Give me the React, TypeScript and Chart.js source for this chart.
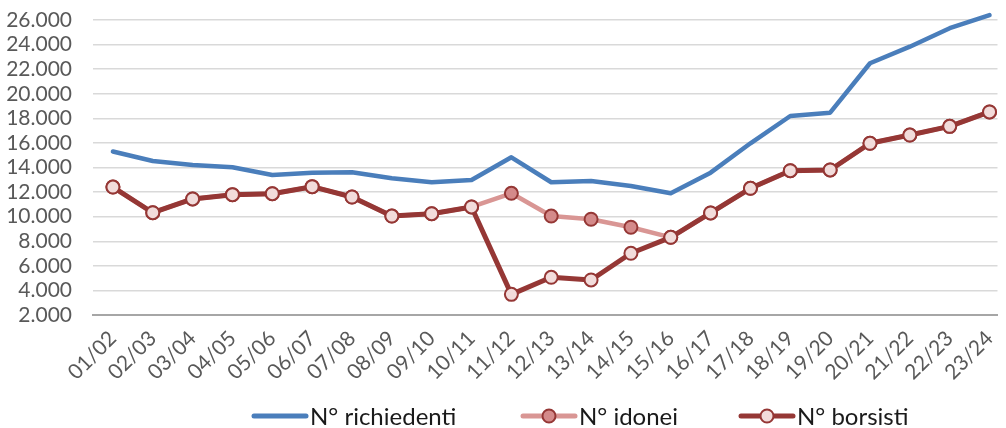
import React, { useEffect, useRef } from "react";
import { Chart, registerables } from "chart.js";

Chart.register(...registerables);

const categories = ["01/02","02/03","03/04","04/05","05/06","06/07","07/08","08/09","09/10","10/11","11/12","12/13","13/14","14/15","15/16","16/17","17/18","18/19","19/20","20/21","21/22","22/23","23/24"];
const richiedenti = [15300,14530,14200,14020,13390,13580,13610,13120,12800,12980,14830,12800,12900,12500,11900,13580,15970,18190,18460,22480,23830,25330,26400];
const idonei = [12410,10320,11440,11790,11870,12440,11600,10050,10240,10790,11900,10050,9790,9140,8320,10300,12310,13740,13800,15970,16640,17350,18520];
const borsisti = [12410,10320,11440,11790,11870,12440,11600,10050,10240,10790,3680,5070,4850,7020,8320,10300,12310,13740,13800,15970,16640,17350,18520];
const yTicks = [2000,4000,6000,8000,10000,12000,14000,16000,18000,20000,22000,24000,26000];
const legendLabels = ["N° richiedenti", "N° idonei", "N° borsisti"];

const BLUE = "#4a7ebb";
const PINK = "#d99694";
const PINK_FILL = "#d48a8a";
const DARK = "#953735";
const LIGHT_FILL = "#f2dcdb";
const FONT = "Lato";

const toPoints = (arr: number[]) => arr.map((y, i) => ({ x: i, y }));

const legendPlugin = {
  id: "customLegend",
  afterDraw(chart: any) {
    const ctx = chart.ctx as CanvasRenderingContext2D;
    const y = 416;
    const items = [
      { x: 252, color: BLUE, marker: null as null | { fill: string } , label: legendLabels[0] },
      { x: 521, color: PINK, marker: { fill: PINK_FILL }, label: legendLabels[1] },
      { x: 739, color: DARK, marker: { fill: LIGHT_FILL }, label: legendLabels[2] },
    ];
    ctx.save();
    ctx.font = `24px ${FONT}`;
    ctx.textBaseline = "middle";
    ctx.textAlign = "left";
    for (const it of items) {
      ctx.strokeStyle = it.color;
      ctx.lineWidth = 5;
      ctx.lineCap = "round";
      ctx.beginPath();
      ctx.moveTo(it.x + 2, y);
      ctx.lineTo(it.x + 54, y);
      ctx.stroke();
      if (it.marker) {
        ctx.beginPath();
        ctx.arc(it.x + 28, y, 6.5, 0, Math.PI * 2);
        ctx.fillStyle = it.marker.fill;
        ctx.fill();
        ctx.lineWidth = 2;
        ctx.strokeStyle = DARK;
        ctx.stroke();
      }
      ctx.fillStyle = "#1a1a1a";
      ctx.fillText(it.label, it.x + 58, y + 1);
    }
    ctx.restore();
  },
};

const zeroPad = (scale: any) => {
  scale.paddingLeft = 0;
  scale.paddingRight = 0;
  scale.paddingTop = 0;
  scale.paddingBottom = 0;
};

export default function App() {
  const ref = useRef<HTMLCanvasElement | null>(null);
  useEffect(() => {
    document.body.style.margin = "0";
    if (!ref.current) return;
    const chart = new Chart(ref.current, {
      type: "line",
      data: {
        datasets: [
          {
            label: legendLabels[0],
            data: toPoints(richiedenti),
            borderColor: BLUE,
            backgroundColor: BLUE,
            borderWidth: 4.5,
            pointRadius: 0,
            borderJoinStyle: "round",
            borderCapStyle: "round",
            clip: false,
            order: 2,
          } as any,
          {
            label: legendLabels[1],
            data: toPoints(idonei),
            borderColor: PINK,
            backgroundColor: PINK_FILL,
            borderWidth: 4.5,
            pointRadius: 6.5,
            pointBorderWidth: 2,
            pointBorderColor: DARK,
            pointBackgroundColor: PINK_FILL,
            borderJoinStyle: "round",
            clip: false,
            order: 1,
          } as any,
          {
            label: legendLabels[2],
            data: toPoints(borsisti),
            borderColor: DARK,
            backgroundColor: LIGHT_FILL,
            borderWidth: 5,
            pointRadius: 6.5,
            pointBorderWidth: 2,
            pointBorderColor: DARK,
            pointBackgroundColor: LIGHT_FILL,
            borderJoinStyle: "round",
            clip: false,
            order: 0,
          } as any,
        ],
      },
      options: {
        responsive: false,
        animation: false,
        layout: { padding: { top: 20, right: 4, bottom: 43, left: 0 } },
        plugins: { legend: { display: false }, tooltip: { enabled: false } },
        scales: {
          x: {
            type: "linear",
            min: -0.5,
            max: 22.2,
            afterBuildTicks: (scale: any) => {
              scale.ticks = categories.map((_, i) => ({ value: i }));
            },
            afterFit: (scale: any) => {
              scale.height = 70;
              zeroPad(scale);
            },
            ticks: {
              autoSkip: false,
              maxRotation: 45,
              minRotation: 45,
              padding: 11,
              color: "#595959",
              font: { family: FONT, size: 21 },
              callback: (v: any) => categories[Math.round(Number(v))] ?? "",
            },
            grid: { display: false, drawTicks: false },
            border: { color: "#a6a6a6", width: 2 },
          },
          y: {
            min: 2000,
            max: 26000,
            afterBuildTicks: (scale: any) => {
              scale.ticks = yTicks.map((v) => ({ value: v }));
            },
            afterFit: (scale: any) => {
              scale.width = 93;
              zeroPad(scale);
            },
            ticks: {
              autoSkip: false,
              padding: 21,
              color: "#595959",
              font: { family: FONT, size: 21 },
              callback: (v: any) => Number(v).toLocaleString("de-DE"),
            },
            grid: { color: "#d9d9d9", lineWidth: 1.5, drawTicks: false },
            border: { display: false },
          },
        },
      } as any,
      plugins: [legendPlugin],
    });
    return () => chart.destroy();
  }, []);
  return <canvas ref={ref} width={1006} height={428} style={{ display: "block", width: 1006, height: 428 }} />;
}
